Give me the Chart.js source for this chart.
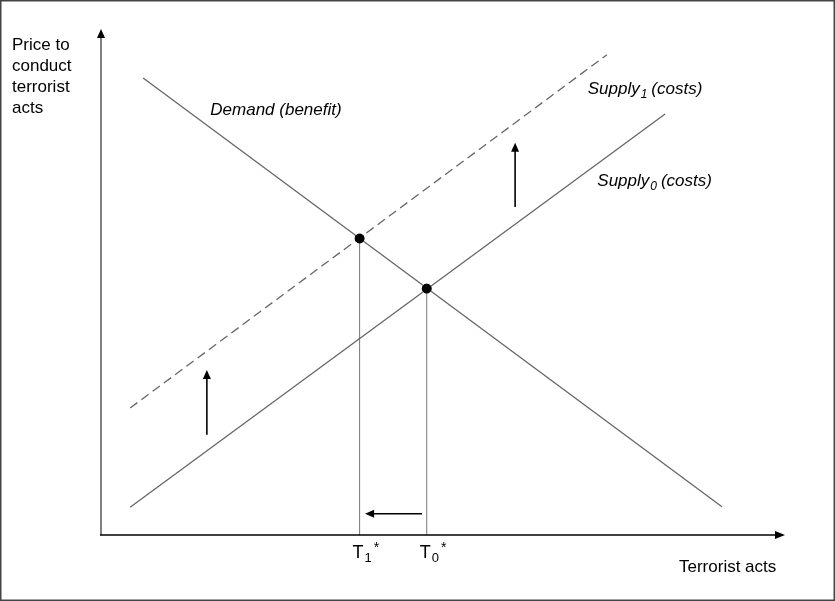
<!DOCTYPE html>
<html>
<head>
<meta charset="utf-8">
<script src="https://cdn.jsdelivr.net/npm/chart.js@4"></script>
<style>
  html, body { margin: 0; padding: 0; background: #fff; }
  #wrap { width: 835px; height: 601px; }
</style>
</head>
<body>
<div id="wrap"><canvas id="chart" width="835" height="601"></canvas></div>
<script>
// line endpoints (0..100 on both axes)
const demandX = [6.3, 90.8];
const demandY = [90.3, 5.6];
const supply0X = [4.4, 82.5];
const supply0Y = [5.5, 83.2];
const supply1X = [4.4, 74.0];
const supply1Y = [25.1, 94.9];

// equilibria T1* and T0*
const eqX = [37.9, 47.7];
const eqY = [58.6, 48.7];
const eqSubs = ['1', '0'];

// shift arrows (from -> to)
const arrowFromX = [15.6, 60.6, 47.0];
const arrowFromY = [19.8, 64.8, 4.2];
const arrowToX = [15.6, 60.6, 38.7];
const arrowToY = [32.6, 77.5, 4.2];

const FONT = '"Liberation Sans", Arial, sans-serif';

function pts(xs, ys) {
  return xs.map((x, i) => ({ x: x, y: ys[i] }));
}

function head(ctx, x, y, ang, len, w) {
  ctx.save();
  ctx.translate(x, y);
  ctx.rotate(ang);
  ctx.beginPath();
  ctx.moveTo(0, 0);
  ctx.lineTo(-len, -w / 2);
  ctx.lineTo(-len, w / 2);
  ctx.closePath();
  ctx.fill();
  ctx.restore();
}

function arrow(ctx, x0, y0, x1, y1, color, width) {
  const ang = Math.atan2(y1 - y0, x1 - x0);
  ctx.strokeStyle = color;
  ctx.fillStyle = color;
  ctx.lineWidth = width;
  ctx.beginPath();
  ctx.moveTo(x0, y0);
  ctx.lineTo(x1 - Math.cos(ang) * 6, y1 - Math.sin(ang) * 6);
  ctx.stroke();
  head(ctx, x1, y1, ang, 9, 8);
}

// text with subscript, optional superscript asterisk
function subText(ctx, main, sub, rest, x, y, size, italic, star) {
  const st = italic ? 'italic ' : '';
  ctx.textBaseline = 'alphabetic';
  ctx.textAlign = 'left';
  ctx.font = st + size + 'px ' + FONT;
  ctx.fillText(main, x, y);
  x += ctx.measureText(main).width + 1;
  ctx.font = st + Math.round(size * 0.7) + 'px ' + FONT;
  ctx.fillText(sub, x, y + 4);
  x += ctx.measureText(sub).width;
  if (star) {
    ctx.font = Math.round(size * 0.8) + 'px ' + FONT;
    ctx.fillText('*', x + 2, y - 6);
  }
  if (rest) {
    ctx.font = st + size + 'px ' + FONT;
    ctx.fillText(rest, x + 4, y);
  }
}

const diagram = {
  id: 'diagram',
  beforeDraw(chart) {
    const ctx = chart.ctx;
    ctx.save();
    ctx.fillStyle = '#fff';
    ctx.fillRect(0, 0, chart.width, chart.height);
    ctx.strokeStyle = '#444';
    ctx.lineWidth = 1.5;
    ctx.strokeRect(0.75, 0.75, chart.width - 1.5, chart.height - 1.5);
    ctx.restore();
  },
  afterDatasetsDraw(chart) {
    const ctx = chart.ctx;
    const a = chart.chartArea;
    const xs = chart.scales.x, ys = chart.scales.y;
    ctx.save();

    // axes
    ctx.fillStyle = '#000';
    ctx.strokeStyle = '#555';
    ctx.lineWidth = 1.5;
    ctx.beginPath();
    ctx.moveTo(a.left + 1, a.bottom);
    ctx.lineTo(a.left + 1, a.top + 6);
    ctx.stroke();
    head(ctx, a.left + 1, a.top, -Math.PI / 2, 9, 8);
    ctx.strokeStyle = '#000';
    ctx.beginPath();
    ctx.moveTo(a.left, a.bottom);
    ctx.lineTo(a.right - 6, a.bottom);
    ctx.stroke();
    head(ctx, a.right, a.bottom, 0, 10, 8);

    // shift arrows
    for (let i = 0; i < arrowFromX.length; i++) {
      arrow(ctx,
        xs.getPixelForValue(arrowFromX[i]), ys.getPixelForValue(arrowFromY[i]),
        xs.getPixelForValue(arrowToX[i]), ys.getPixelForValue(arrowToY[i]),
        '#000', 1.6);
    }

    ctx.fillStyle = '#000';
    // axis titles
    ctx.font = '17px ' + FONT;
    ctx.textBaseline = 'middle';
    ctx.textAlign = 'left';
    ['Price to', 'conduct', 'terrorist', 'acts'].forEach((t, i) => {
      ctx.fillText(t, 12, 45 + i * 21);
    });
    ctx.fillText('Terrorist acts', a.right - 106, a.bottom + 32);

    // equilibrium tick labels
    eqX.forEach((x, i) => {
      const px = xs.getPixelForValue(x);
      subText(ctx, 'T', eqSubs[i], '', px - 7, a.bottom + 23, 18, false, true);
    });

    // curve labels
    ctx.font = 'italic 17px ' + FONT;
    ctx.textBaseline = 'alphabetic';
    ctx.fillText('Demand (benefit)', xs.getPixelForValue(16.1), ys.getPixelForValue(83.1));
    subText(ctx, 'Supply', '1', '(costs)', xs.getPixelForValue(71.2), ys.getPixelForValue(87.2), 17, true, false);
    subText(ctx, 'Supply', '0', '(costs)', xs.getPixelForValue(72.6), ys.getPixelForValue(68.9), 17, true, false);

    // equilibrium dots on top
    ctx.fillStyle = '#000';
    eqX.forEach((x, i) => {
      ctx.beginPath();
      ctx.arc(xs.getPixelForValue(x), ys.getPixelForValue(eqY[i]), 4.5, 0, Math.PI * 2);
      ctx.fill();
    });

    ctx.restore();
  }
};

const lineStyle = { showLine: true, pointRadius: 0, borderColor: '#666', borderWidth: 1.3, fill: false };

const datasets = [
  Object.assign({ label: 'Demand (benefit)', data: pts(demandX, demandY) }, lineStyle),
  Object.assign({ label: 'Supply0 (costs)', data: pts(supply0X, supply0Y) }, lineStyle),
  Object.assign({ label: 'Supply1 (costs)', data: pts(supply1X, supply1Y), borderDash: [9, 5] }, lineStyle)
];
eqX.forEach((x, i) => {
  datasets.push({
    label: 'T' + eqSubs[i] + '*',
    data: [{ x: x, y: 0 }, { x: x, y: eqY[i] }],
    showLine: true, pointRadius: 0, borderColor: '#777', borderWidth: 1
  });
});
datasets.push({
  label: 'equilibria',
  data: pts(eqX, eqY),
  showLine: false, pointRadius: 4.5, pointBackgroundColor: '#000', pointBorderColor: '#000', order: -1
});

new Chart(document.getElementById('chart'), {
  type: 'scatter',
  data: { datasets: datasets },
  options: {
    responsive: false,
    animation: false,
    layout: { padding: { left: 100, top: 29, right: 50, bottom: 66 } },
    plugins: { legend: { display: false }, tooltip: { enabled: false } },
    scales: {
      x: { type: 'linear', min: 0, max: 100, display: false },
      y: { type: 'linear', min: 0, max: 100, display: false }
    }
  },
  plugins: [diagram]
});
</script>
</body>
</html>
